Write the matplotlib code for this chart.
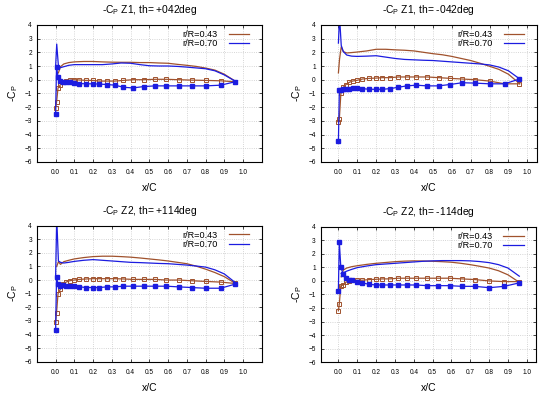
import numpy as np
import matplotlib
matplotlib.use("Agg")
import matplotlib.pyplot as plt

plt.rcParams['font.family'] = ['Liberation Sans', 'DejaVu Sans']
plt.rcParams['mathtext.fontset'] = 'custom'
plt.rcParams['mathtext.rm'] = 'Liberation Sans'

# Couleurs des deux rayons
brun = '#a0522d'
bleu = '#1c1ce0'

# abscisses des prises de pression (intrados, avec marqueurs)
x_bas = [0.0, 0.005, 0.013, 0.026, 0.04, 0.056, 0.075, 0.097, 0.127, 0.164, 0.2, 0.233,
         0.273, 0.317, 0.362, 0.412, 0.47, 0.53, 0.59, 0.656, 0.725, 0.8, 0.88, 0.958]
# abscisses de la courbe extrados (ligne seule)
x_haut = [0.0, 0.006, 0.015, 0.026, 0.044, 0.07, 0.1, 0.15, 0.2, 0.25, 0.3, 0.35, 0.4,
          0.45, 0.5, 0.55, 0.6, 0.65, 0.7, 0.75, 0.8, 0.85, 0.9, 0.96]

titres = [r'-C$_\mathrm{P}$ Z1, th= +042deg', r'-C$_\mathrm{P}$ Z1, th= -042deg',
          r'-C$_\mathrm{P}$ Z2, th= +114deg', r'-C$_\mathrm{P}$ Z2, th= -114deg']

# Z1 +042
b043_haut_1 = [np.nan, np.nan, 0.5, 0.95, 1.15, 1.25, 1.3, 1.33, 1.33, 1.3, 1.28, 1.27, 1.27,
               1.25, 1.25, 1.22, 1.2, 1.12, 1.05, 0.97, 0.85, 0.7, 0.4, -0.12]
b043_bas_1 = [-2.05, -1.65, -0.6, -0.37, -0.2, -0.08, -0.03, 0.0, -0.02, -0.05, -0.05, -0.1,
              -0.1, -0.1, -0.05, 0.0, 0.0, 0.03, 0.03, 0.0, -0.03, -0.05, -0.08, -0.15]
b070_haut_1 = [0.95, 2.6, 1.0, 0.88, 0.95, 1.05, 1.1, 1.1, 1.1, 1.1, 1.15, 1.22, 1.2,
               1.1, 1.02, 1.0, 1.0, 0.97, 0.92, 0.86, 0.8, 0.65, 0.35, -0.12]
b070_bas_1 = [-2.5, 0.95, 0.2, -0.12, -0.17, -0.2, -0.2, -0.25, -0.28, -0.3, -0.3, -0.32,
              -0.35, -0.4, -0.55, -0.6, -0.5, -0.45, -0.45, -0.45, -0.45, -0.45, -0.4, -0.15]

# Z1 -042
b043_haut_2 = [0.5, 1.5, 2.4, 2.05, 1.95, 1.98, 2.02, 2.1, 2.22, 2.22, 2.18, 2.15, 2.1,
               2.0, 1.9, 1.82, 1.7, 1.55, 1.4, 1.2, 0.98, 0.75, 0.4, -0.3]
b043_bas_2 = [-3.1, -2.85, -1.0, -0.55, -0.35, -0.2, -0.1, -0.05, 0.05, 0.1, 0.12, 0.15,
              0.15, 0.2, 0.2, 0.2, 0.2, 0.15, 0.1, 0.05, 0.0, -0.1, -0.3, -0.3]
b070_haut_2 = [2.67, 4.6, 2.5, 2.05, 1.8, 1.72, 1.7, 1.72, 1.75, 1.65, 1.55, 1.48, 1.45,
               1.42, 1.4, 1.35, 1.3, 1.25, 1.2, 1.15, 1.08, 0.92, 0.65, 0.05]
b070_bas_2 = [-4.5, -0.75, -0.75, -0.7, -0.65, -0.65, -0.6, -0.62, -0.65, -0.7, -0.7, -0.7,
              -0.65, -0.55, -0.45, -0.4, -0.45, -0.45, -0.35, -0.22, -0.25, -0.3, -0.3, 0.05]

# Z2 +114
b043_haut_3 = [np.nan, 1.0, 1.35, 1.15, 1.35, 1.45, 1.55, 1.65, 1.72, 1.75, 1.75, 1.72, 1.68,
               1.62, 1.55, 1.48, 1.4, 1.3, 1.2, 1.02, 0.8, 0.55, 0.25, -0.25]
b043_bas_3 = [-3.05, -2.4, -1.0, -0.65, -0.3, -0.15, -0.05, 0.0, 0.05, 0.08, 0.1, 0.1,
              0.1, 0.1, 0.08, 0.05, 0.05, 0.05, 0.0, 0.0, -0.05, -0.1, -0.15, -0.25]
b070_haut_3 = [0.2, 4.6, 1.4, 1.3, 1.25, 1.3, 1.37, 1.45, 1.5, 1.45, 1.4, 1.35, 1.3,
               1.28, 1.25, 1.22, 1.2, 1.15, 1.1, 1.03, 0.95, 0.75, 0.45, -0.2]
b070_bas_3 = [-3.7, 0.2, -0.3, -0.4, -0.35, -0.4, -0.4, -0.45, -0.5, -0.55, -0.55, -0.55,
              -0.5, -0.5, -0.45, -0.45, -0.45, -0.45, -0.45, -0.5, -0.55, -0.6, -0.6, -0.3]

# Z2 -114
b043_haut_4 = [np.nan, np.nan, 0.3, 0.8, 0.95, 1.05, 1.12, 1.22, 1.3, 1.36, 1.42, 1.46, 1.48,
               1.47, 1.45, 1.42, 1.38, 1.3, 1.2, 1.08, 0.95, 0.75, 0.45, -0.1]
b043_bas_4 = [-2.2, -1.7, -0.35, -0.3, -0.1, 0.0, 0.05, 0.05, 0.05, 0.1, 0.12, 0.15,
              0.15, 0.2, 0.2, 0.2, 0.2, 0.2, 0.2, 0.15, 0.1, 0.0, -0.05, -0.05]
b070_haut_4 = [np.nan, np.nan, 0.55, 0.6, 0.72, 0.85, 0.98, 1.1, 1.2, 1.25, 1.3, 1.35, 1.4,
               1.45, 1.48, 1.5, 1.5, 1.5, 1.48, 1.43, 1.35, 1.2, 0.95, 0.35]
b070_bas_4 = [-0.73, 2.9, 1.0, 0.5, 0.25, 0.1, 0.05, -0.05, -0.15, -0.25, -0.3, -0.3,
              -0.3, -0.3, -0.3, -0.3, -0.35, -0.35, -0.35, -0.4, -0.4, -0.5, -0.4, -0.15]

donnees = [
    (b043_haut_1, b043_bas_1, b070_haut_1, b070_bas_1),
    (b043_haut_2, b043_bas_2, b070_haut_2, b070_bas_2),
    (b043_haut_3, b043_bas_3, b070_haut_3, b070_bas_3),
    (b043_haut_4, b043_bas_4, b070_haut_4, b070_bas_4),
]

# positions des axes [gauche, bas, largeur, hauteur] et limites en x
positions = [[0.067, 0.590, 0.409, 0.347], [0.583, 0.590, 0.393, 0.347],
             [0.067, 0.084, 0.409, 0.345], [0.583, 0.083, 0.392, 0.343]]
xlims = [(-0.1, 1.1), (-0.094, 1.05), (-0.1, 1.1), (-0.094, 1.05)]

fig = plt.figure(figsize=(5.5, 3.95), dpi=100)

for i in range(4):
    ax = fig.add_axes(positions[i])
    h43, b43, h70, b70 = donnees[i]
    ax.plot(x_haut, h43, color=brun, lw=0.9, label='r/R=0.43')
    ax.plot(x_bas, b43, color=brun, lw=0.9, marker='s', ms=3.5, mfc='none', mec=brun, mew=0.7)
    ax.plot(x_haut, h70, color=bleu, lw=0.9, label='r/R=0.70')
    ax.plot(x_bas, b70, color=bleu, lw=0.9, marker='s', ms=3.2, mfc=bleu, mec=bleu)

    ax.set_xlim(xlims[i])
    ax.set_ylim(-6, 4)
    ax.set_xticks(np.arange(0, 1.01, 0.1))
    ax.set_xticklabels([f'{v:.1f}' for v in np.arange(0, 1.01, 0.1)])
    ax.set_yticks(range(-6, 5))
    ax.tick_params(labelsize=4.7, direction='in', top=True, right=True, length=2.5, width=0.5)
    ax.tick_params(axis='x', pad=5)
    ax.grid(color='#c8c8c8', linestyle=':', linewidth=0.6)
    for s in ax.spines.values():
        s.set_linewidth(0.8)

    ax.set_title(titres[i], fontsize=7.4, pad=8.5)
    ax.set_xlabel('x/C', fontsize=7.5, labelpad=5)
    ax.set_ylabel(r'-C$_\mathrm{P}$', fontsize=7.5, labelpad=3)
    ax.legend(loc='upper right', bbox_to_anchor=(0.958, 0.99), frameon=False, markerfirst=False,
              fontsize=6.6, handlelength=2.2, handletextpad=1.2, labelspacing=0.05,
              borderaxespad=0)

plt.savefig('out.png', dpi=100)
